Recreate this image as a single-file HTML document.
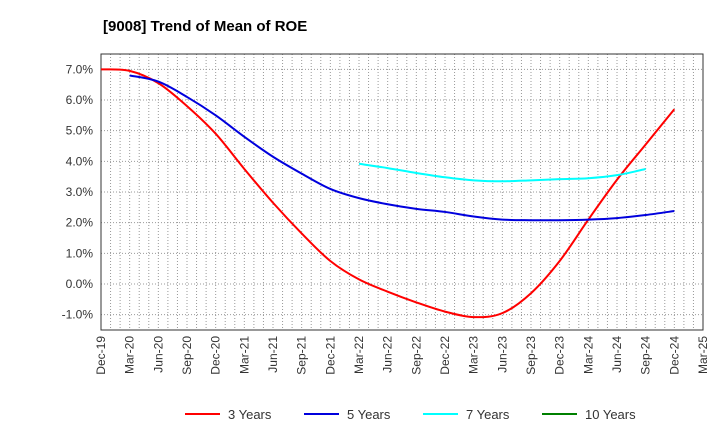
<!DOCTYPE html>
<html><head><meta charset="utf-8"><style>
body{margin:0;background:#fff;font-family:"Liberation Sans",Arial,sans-serif}
</style></head><body>
<svg id="c" width="720" height="440" xmlns="http://www.w3.org/2000/svg">
<text x="103" y="31" font-size="15" font-weight="bold" fill="#000">[9008]  Trend of Mean of ROE</text>
<g id="grid"></g><g id="axes"></g><g id="series"></g><g id="legend"></g>
</svg>
<script>
const xLabels=["Dec-19","Mar-20","Jun-20","Sep-20","Dec-20","Mar-21","Jun-21","Sep-21","Dec-21","Mar-22","Jun-22","Sep-22","Dec-22","Mar-23","Jun-23","Sep-23","Dec-23","Mar-24","Jun-24","Sep-24","Dec-24","Mar-25"];
const yTicks=[-1,0,1,2,3,4,5,6,7];
const s3=[7.0,6.95,6.55,5.8,4.9,3.75,2.65,1.65,0.75,0.15,-0.25,-0.6,-0.9,-1.08,-0.95,-0.3,0.75,2.1,3.4,4.55,5.7];
const s5=[6.8,6.6,6.1,5.5,4.8,4.15,3.6,3.1,2.8,2.6,2.45,2.35,2.2,2.1,2.08,2.08,2.1,2.15,2.25,2.38];
const s7=[3.92,3.78,3.62,3.48,3.38,3.35,3.38,3.42,3.45,3.55,3.75];
const s10=[];
const L=101,R=703,T=54,B=330,ymin=-1.5,ymax=7.5;
const xs=i=>L+(R-L)*i/(xLabels.length-1);
const ys=v=>B-(v-ymin)/(ymax-ymin)*(B-T);
const NS="http://www.w3.org/2000/svg";
function mk(p,tag,a){const e=document.createElementNS(NS,tag);for(const k in a)e.setAttribute(k,a[k]);p.appendChild(e);return e;}
const g=document.getElementById('grid'),ax=document.getElementById('axes'),se=document.getElementById('series'),lg=document.getElementById('legend');
for(let m=1;m<(xLabels.length-1)*3;m++){const x=L+(R-L)*m/((xLabels.length-1)*3);
const l=mk(g,'line',{x1:x,x2:x,y1:T,y2:B,stroke:'#999','stroke-width':1,'stroke-dasharray':'1,2'});
}
yTicks.forEach(v=>{const y=ys(v);
const l=mk(g,'line',{x1:L,x2:R,y1:y,y2:y,stroke:'#999','stroke-width':1,'stroke-dasharray':'1,2'});

const t=mk(ax,'text',{x:L-8,y:y+4,'text-anchor':'end','font-size':12,fill:'#333'});t.textContent=v.toFixed(1)+'%';
});
const fr=mk(ax,'rect',{x:L,y:T,width:R-L,height:B-T,fill:'none',stroke:'#333','stroke-width':1});

xLabels.forEach((lab,i)=>{const x=xs(i);
const t=mk(ax,'text',{x:0,y:0,transform:`translate(${x+4},${B+6}) rotate(-90)`,'text-anchor':'end','font-size':12,fill:'#333'});t.textContent=lab;
});
function path(arr,off){const p=arr.map((v,i)=>[xs(i+off),ys(v)]);if(!p.length)return'';let d=`M${p[0][0]},${p[0][1]}`;
for(let i=0;i<p.length-1;i++){const p0=p[Math.max(0,i-1)],p1=p[i],p2=p[i+1],p3=p[Math.min(p.length-1,i+2)];
const c1=[p1[0]+(p2[0]-p0[0])/6,p1[1]+(p2[1]-p0[1])/6],c2=[p2[0]-(p3[0]-p1[0])/6,p2[1]-(p3[1]-p1[1])/6];
d+=` C${c1[0]},${c1[1]} ${c2[0]},${c2[1]} ${p2[0]},${p2[1]}`;}return d;}
const series=[[s3,0,'#ff0000','3 Years','line-3-years'],[s5,1,'#0000dd','5 Years','line-5-years'],[s7,9,'#00ffff','7 Years','line-7-years'],[s10,20,'#008000','10 Years','line-10-years']];
series.forEach(([a,o,c,n,dn],k)=>{if(a.length){const e=mk(se,'path',{d:path(a,o),fill:'none',stroke:c,'stroke-width':2});
}
const lx=[185,304,423,542][k];
const ll=mk(lg,'line',{x1:lx,x2:lx+35,y1:414,y2:414,stroke:c,'stroke-width':2});

const t=mk(lg,'text',{x:lx+43,y:419,'font-size':13,fill:'#333'});t.textContent=n;
});
</script>
</body></html>
